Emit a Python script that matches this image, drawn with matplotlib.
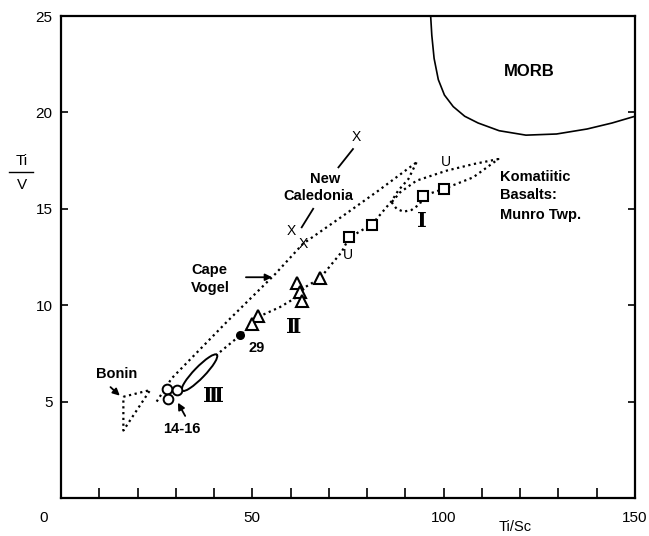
import matplotlib
matplotlib.use("Agg")
import matplotlib.pyplot as plt
import matplotlib.transforms as mtransforms
from matplotlib.patches import Ellipse

plt.rcParams["font.family"] = ["Liberation Sans", "DejaVu Sans"]

# --- data ------------------------------------------------------------------
# group I (squares), group II (triangles), group III (open circles)
sq_x = [75.3, 81.3, 94.7, 100.0]
sq_y = [13.55, 14.17, 15.68, 16.03]
tri_x = [61.6, 62.5, 62.9, 67.7, 51.6, 49.8]
tri_y = [11.14, 10.68, 10.21, 11.39, 9.42, 9.01]
circ_x = [27.8, 30.4, 28.0]
circ_y = [5.64, 5.59, 5.16]
dot29_x = [46.9]
dot29_y = [8.45]

# New Caledonia (X) and Munro Twp. (U) samples
ncal_x = [77.3, 60.3, 63.2]
ncal_y = [18.7, 13.87, 13.18]
u_x = [100.5, 75.1]
u_y = [17.41, 12.58]

# MORB field boundary
morb_x = [96.6, 96.9, 97.5, 98.6, 100.2, 102.5, 105.5, 109.0, 114.5, 121.5,
          129.5, 137.5, 144.0, 150.0]
morb_y = [25.0, 24.0, 22.8, 21.7, 20.9, 20.3, 19.8, 19.45, 19.05, 18.82,
          18.88, 19.14, 19.45, 19.8]

# Cape Vogel envelope (upper and lower dotted boundaries)
cv_up_x = [25.0, 28.9, 43.3, 55.9, 63.2, 73.8, 83.0, 92.9]
cv_up_y = [5.0, 6.2, 9.13, 11.6, 13.18, 14.65, 15.95, 17.41]
cv_lo_x = [92.9, 90.8, 88.1, 86.4, 81.3, 75.3, 73.3, 67.7, 63.5, 62.3, 57.2,
           51.6, 49.8, 46.9, 40.5]
cv_lo_y = [17.41, 16.55, 15.94, 15.4, 14.2, 13.5, 12.75, 11.4, 10.9, 10.5,
           9.9, 9.4, 9.0, 8.45, 7.4]

# Komatiitic basalts, Munro Twp. envelope
mun_x = [86.4, 87.7, 89.5, 91.6, 93.8, 94.7, 100.0, 107.7, 114.3, 107.8,
         100.8, 92.9, 88.6, 86.4]
mun_y = [15.34, 15.0, 14.85, 14.94, 15.25, 15.68, 16.03, 16.63, 17.58, 17.32,
         16.98, 16.46, 15.85, 15.34]

# Bonin field
bon_x = [16.3, 23.3, 16.3, 16.3]
bon_y = [5.25, 5.6, 3.5, 5.25]

x_ticks = list(range(0, 151, 10))
x_labels = ["0", "", "", "", "", "50", "", "", "", "", "100", "", "", "", "", "150"]
y_ticks = [5, 10, 15, 20, 25]

# --- figure -----------------------------------------------------------------
fig = plt.figure(figsize=(6.49, 5.36), dpi=100)
ax = fig.add_axes([61 / 649, 1 - 498 / 536, 574 / 649, 482 / 536])
ax.set_xlim(0, 150)
ax.set_ylim(0, 25)

for sp in ax.spines.values():
    sp.set_linewidth(1.6)

ax.set_xticks(x_ticks)
ax.set_xticklabels(x_labels)
ax.set_yticks(y_ticks)
ax.tick_params(axis="x", direction="in", length=7, width=1.2, pad=9, labelsize=11)
ax.tick_params(axis="y", direction="in", length=5, width=1.2, pad=6, labelsize=11,
               right=True)
# the "0" label sits left of the axis corner in the original
shift = mtransforms.ScaledTranslation(-0.17, 0, fig.dpi_scale_trans)
lbl0 = ax.get_xticklabels()[0]
lbl0.set_transform(lbl0.get_transform() + shift)

dots = dict(color="black", linestyle=(0, (1.0, 1.6)), linewidth=1.6, zorder=2)
ax.plot(cv_up_x, cv_up_y, **dots)
ax.plot(cv_lo_x, cv_lo_y, **dots)
ax.plot(mun_x, mun_y, **dots)
ax.plot(bon_x, bon_y, **dots)

ax.plot(morb_x, morb_y, color="black", linewidth=1.2)

# group III field: elongated solid outline
ell_tr = fig.dpi_scale_trans + mtransforms.ScaledTranslation(36.2, 6.5, ax.transData)
ax.add_patch(Ellipse((0, 0), width=0.50, height=0.11, angle=46, fill=False,
                     edgecolor="black", linewidth=1.4, transform=ell_tr))

mk = dict(linestyle="none", color="black", markerfacecolor="white", zorder=4)
ax.plot(sq_x, sq_y, marker="s", markersize=7.5, markeredgewidth=1.5, **mk)
ax.plot(tri_x, tri_y, marker="^", markersize=8, markeredgewidth=1.5, **mk)
ax.plot(circ_x, circ_y, marker="o", markersize=7, markeredgewidth=1.4, **mk)
ax.plot(dot29_x, dot29_y, marker="o", markersize=5.5, color="black", linestyle="none")

for x, y in zip(ncal_x, ncal_y):
    ax.text(x, y, "X", ha="center", va="center", fontsize=10, zorder=5)
for x, y in zip(u_x, u_y):
    ax.text(x, y, "U", ha="center", va="center", fontsize=10, zorder=5)

bold = dict(fontsize=10.5, fontweight="bold")
ax.text(122.4, 22.1, "MORB", ha="center", va="center", fontsize=12, fontweight="bold")
ax.text(114.7, 16.64, "Komatiitic", ha="left", va="center", **bold)
ax.text(114.7, 15.69, "Basalts:", ha="left", va="center", **bold)
ax.text(114.7, 14.66, "Munro Twp.", ha="left", va="center", **bold)
ax.text(69.0, 16.55, "New", ha="center", va="center", **bold)
ax.text(67.2, 15.68, "Caledonia", ha="center", va="center", **bold)
ax.text(38.9, 11.8, "Cape", ha="center", va="center", **bold)
ax.text(38.9, 10.9, "Vogel", ha="center", va="center", **bold)
ax.text(14.5, 6.45, "Bonin", ha="center", va="center", **bold)
ax.text(31.5, 3.6, "14-16", ha="center", va="center", **bold)
ax.text(51.2, 7.77, "29", ha="center", va="center", **bold)

roman = dict(fontsize=15, fontweight="bold", family=["DejaVu Serif", "DejaVu Sans"],
             ha="center", va="center")
ax.text(94.2, 14.35, "Ⅰ", **roman)
ax.text(60.7, 8.87, "Ⅱ", **roman)
ax.text(39.8, 5.3, "Ⅲ", **roman)

line_kw = dict(color="black", linewidth=1.3)
ax.plot([72.5, 76.3], [17.15, 18.1], **line_kw)
ax.plot([65.9, 62.9], [15.0, 14.04], **line_kw)

arrow = dict(arrowstyle="-|>", color="black", linewidth=1.3, mutation_scale=10)
ax.annotate("", xy=(55.9, 11.45), xytext=(47.6, 11.45), arrowprops=arrow)
ax.annotate("", xy=(15.9, 5.21), xytext=(12.4, 5.85), arrowprops=arrow)
ax.annotate("", xy=(30.2, 5.07), xytext=(32.8, 4.13), arrowprops=arrow)

# axis titles
fig.text(21.7 / 649, 1 - 161 / 536, "Ti", ha="center", va="center", fontsize=11)
fig.text(21.7 / 649, 1 - 185 / 536, "V", ha="center", va="center", fontsize=11)
fig.add_artist(plt.Line2D([9 / 649, 33 / 649], [1 - 172 / 536, 1 - 172 / 536],
                          color="black", linewidth=1.0))
fig.text(515 / 649, 1 - 527 / 536, "Ti/Sc", ha="center", va="center", fontsize=10.5)

fig.savefig("out.png", dpi=100)
